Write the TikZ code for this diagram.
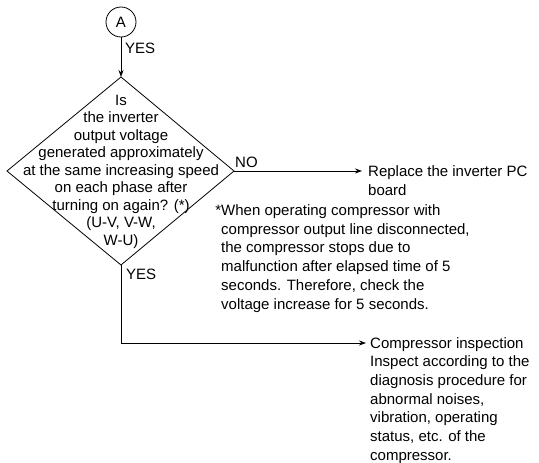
\documentclass[tikz,border=0pt]{standalone}
\usepackage{fontspec}
\setmainfont{Liberation Sans}
\usepackage{tikz}
\usetikzlibrary{arrows.meta}
\tikzset{
    flowline/.style={line width=0.8pt, -{Stealth[length=7pt,width=5pt]}},
    offpage/.style={draw, line width=0.8pt, circle, minimum size=30pt, inner sep=0pt,
        font=\fontsize{15}{18}\selectfont},
    flowtext/.style={inner sep=0pt, anchor=north west, align=left,
        font=\fontsize{15}{18.7}\selectfont},
    decisiontext/.style={inner sep=0pt, align=center,
        font=\fontsize{15}{17.5}\selectfont},
    tag/.style={inner sep=0pt, anchor=west, font=\fontsize{15}{18}\selectfont}
}

\begin{document}
\begin{tikzpicture}[x=1pt,y=-1pt]
        \useasboundingbox (0,0) rectangle (539,463);
        \node[offpage] (A) at (121,22) {A};
        % decision box
        \coordinate (qtop) at (121,77);
        \coordinate (qright) at (234,171);
        \coordinate (qbottom) at (121,265);
        \coordinate (qleft) at (7,171);
        \draw[line width=0.8pt] (qtop) -- (qright) -- (qbottom) -- (qleft) -- cycle;
        \node[decisiontext] (q) at (121,171.5) {Is\\the inverter\\output voltage\\generated approximately\\at the same increasing speed\\on each phase after\\turning on again? (*)\\(U-V, V-W,\\W-U)};
        \draw[flowline] (A) -- (qtop);
        \node[tag] (yesA) at (125,48) {YES};
        % NO branch
        \coordinate (noend) at (362,171);
        \draw[flowline] (qright) -- (noend);
        \node[tag] (no) at (235,162) {NO};
        \node[flowtext] (replace) at (368,165.5) {Replace the inverter PC\\board};
        \node[flowtext] (note) at (221,204.5) {\leavevmode\llap{*}When operating compressor with\\compressor output line disconnected,\\the compressor stops due to\\malfunction after elapsed time of 5\\seconds. Therefore, check the\\voltage increase for 5 seconds.};
        % YES branch
        \coordinate (yesend) at (366,343);
        \draw[flowline] (qbottom) |- (yesend);
        \node[tag] (yesQ) at (126,274) {YES};
        \node[flowtext] (inspect) at (370,337) {Compressor inspection\\Inspect according to the\\diagnosis procedure for\\abnormal noises,\\vibration, operating\\status, etc. of the\\compressor.};
\end{tikzpicture}
\end{document}
